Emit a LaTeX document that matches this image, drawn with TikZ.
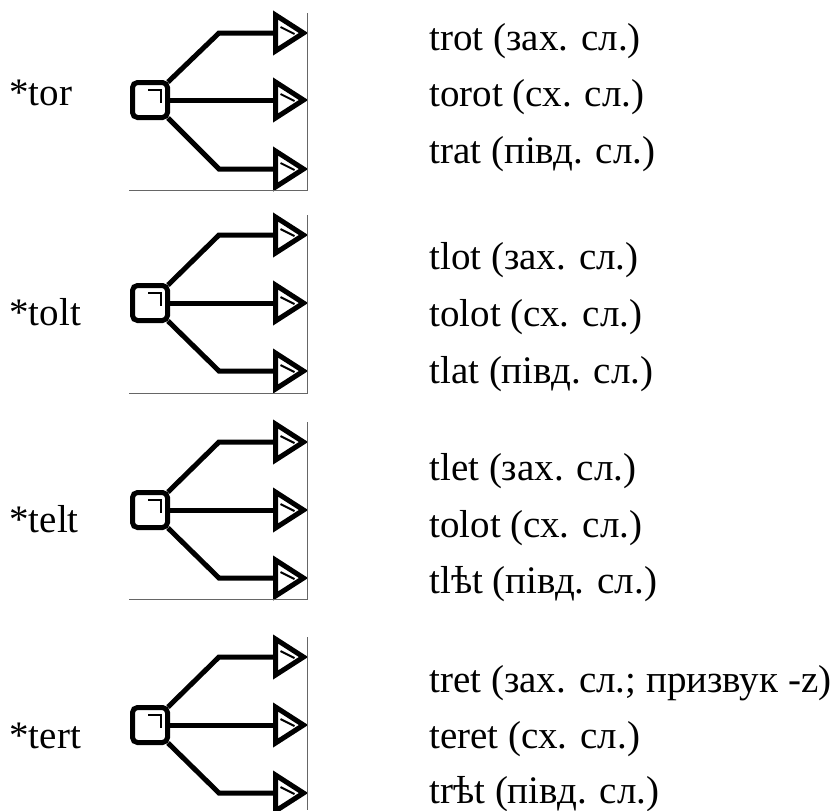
\documentclass[tikz,border=0pt]{standalone}
\usepackage{fontspec}
\setmainfont{Liberation Serif}
\usetikzlibrary{shapes.geometric, calc}

\begin{document}
\begin{tikzpicture}[x=0.5pt, y=-0.5pt,
  root/.style={draw, line width=2.5pt, rounded corners=2.5pt, minimum size=17.5pt,
               inner sep=0pt,
               path picture={\draw[line width=1pt, sharp corners]
                 ($(path picture bounding box.center)+(-2,-10)$) -- ++(13,0) -- ++(0,13);}},
  reflex/.style={draw, line width=2.5pt, isosceles triangle, isosceles triangle stretches,
                 minimum height=14pt, minimum width=18pt, inner sep=0pt, anchor=west,
                 path picture={\draw[line width=1pt]
                   ($(path picture bounding box.west)+(5,-6)$) -- ++(14,7);}},
  branch/.style={line width=2.5pt},
  frame/.style={line width=0.5pt, black!60},
  proto/.style={anchor=base west, inner sep=0pt, font=\fontsize{19.5}{23}\selectfont},
  form/.style={proto},
]
\useasboundingbox (0,0) rectangle (833,810);

% *tor
\node[proto] (ptor) at (9,105) {*tor};
\node[root] (tor) at (150,100) {};
\node[reflex] (tor1) at (273,33) {};
\node[reflex] (tor2) at (273,100) {};
\node[reflex] (tor3) at (273,169) {};
\draw[branch] ($(tor.north east)+(-2,2)$) -- ($(tor1.west)+(-54,0)$) -- (tor1.west);
\draw[branch] (tor.east) -- (tor2.west);
\draw[branch] ($(tor.south east)+(-2,-2)$) -- ($(tor3.west)+(-54,0)$) -- (tor3.west);
\draw[frame] (307,13) -- (307,190) -- (129,190);
\node[form] (trot) at (429,50) {trot (зах. сл.)};
\node[form] (torot) at (429,106) {torot (сх. сл.)};
\node[form] (trat) at (429,163) {trat (півд. сл.)};

% *tolt
\node[proto] (ptolt) at (9,325) {*tolt};
\node[root] (tolt) at (150,303) {};
\node[reflex] (tolt1) at (273,235) {};
\node[reflex] (tolt2) at (273,303) {};
\node[reflex] (tolt3) at (273,371) {};
\draw[branch] ($(tolt.north east)+(-2,2)$) -- ($(tolt1.west)+(-54,0)$) -- (tolt1.west);
\draw[branch] (tolt.east) -- (tolt2.west);
\draw[branch] ($(tolt.south east)+(-2,-2)$) -- ($(tolt3.west)+(-54,0)$) -- (tolt3.west);
\draw[frame] (307,215) -- (307,393) -- (129,393);
\node[form] (tlot) at (429,269) {tlot (зах. сл.)};
\node[form] (tolot) at (429,326) {tolot (сх. сл.)};
\node[form] (tlat) at (429,383) {tlat (півд. сл.)};

% *telt
\node[proto] (ptelt) at (9,532) {*telt};
\node[root] (telt) at (150,510) {};
\node[reflex] (telt1) at (273,442) {};
\node[reflex] (telt2) at (273,510) {};
\node[reflex] (telt3) at (273,578) {};
\draw[branch] ($(telt.north east)+(-2,2)$) -- ($(telt1.west)+(-54,0)$) -- (telt1.west);
\draw[branch] (telt.east) -- (telt2.west);
\draw[branch] ($(telt.south east)+(-2,-2)$) -- ($(telt3.west)+(-54,0)$) -- (telt3.west);
\draw[frame] (307,422) -- (307,599) -- (129,599);
\node[form] (tlet) at (429,480) {tlet (зах. сл.)};
\node[form] (tolot2) at (429,537) {tolot (сх. сл.)};
\node[form] (tlyat) at (429,593) {tlѣt (півд. сл.)};

% *tert
\node[proto] (ptert) at (9,748) {*tert};
\node[root] (tert) at (150,725) {};
\node[reflex] (tert1) at (273,657) {};
\node[reflex] (tert2) at (273,725) {};
\node[reflex] (tert3) at (273,793) {};
\draw[branch] ($(tert.north east)+(-2,2)$) -- ($(tert1.west)+(-54,0)$) -- (tert1.west);
\draw[branch] (tert.east) -- (tert2.west);
\draw[branch] ($(tert.south east)+(-2,-2)$) -- ($(tert3.west)+(-54,0)$) -- (tert3.west);
\draw[frame] (307,637) -- (307,810);
\node[form] (tret) at (429,692) {tret (зах. сл.; призвук -z)};
\node[form] (teret) at (429,748) {teret (сх. сл.)};
\node[form] (tryat) at (429,803) {trѣt (півд. сл.)};

\end{tikzpicture}
\end{document}
